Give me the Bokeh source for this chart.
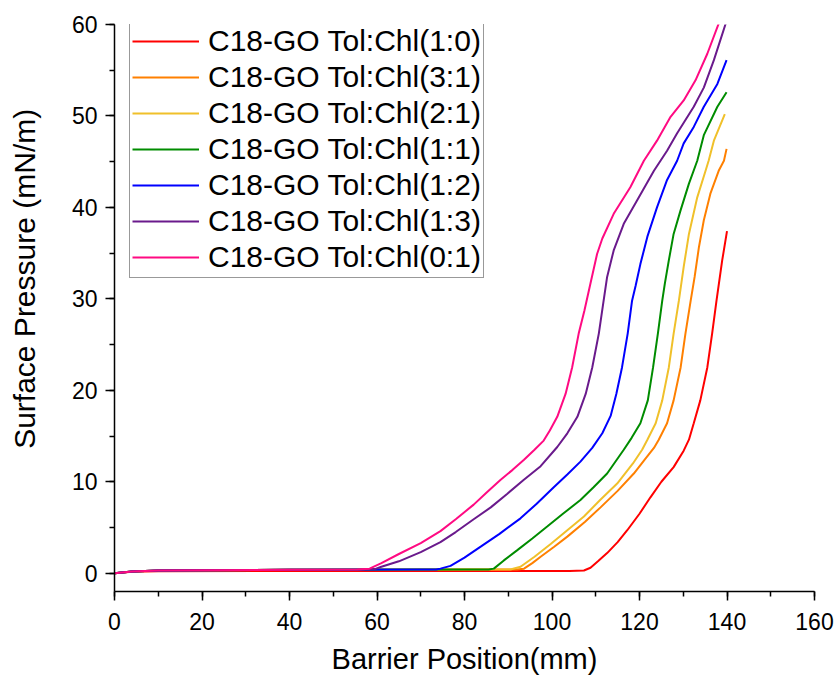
from bokeh.plotting import figure
from bokeh.models import SingleIntervalTicker, Range1d, Legend, LegendItem
from bokeh.embed import file_html
from bokeh.resources import INLINE

labels = ["C18-GO Tol:Chl(1:0)", "C18-GO Tol:Chl(3:1)", "C18-GO Tol:Chl(2:1)",
          "C18-GO Tol:Chl(1:1)", "C18-GO Tol:Chl(1:2)", "C18-GO Tol:Chl(1:3)",
          "C18-GO Tol:Chl(0:1)"]
colors = ["#FF0000", "#FF8000", "#F0C02A", "#008C00", "#0000FF", "#6A1A8C", "#FF0A82"]

x_10 = [0, 4, 10, 40, 80, 104, 107.3, 108.8, 110.5, 112.6, 115, 117.2, 120, 122.5, 125, 127.8, 130.1, 131.3, 132.4, 133.9, 135.5, 136.6, 137.6, 138.9, 140]
y_10 = [0, 0.15, 0.22, 0.25, 0.25, 0.25, 0.3, 0.6, 1.3, 2.2, 3.4, 4.7, 6.5, 8.3, 10.0, 11.6, 13.4, 14.6, 16.4, 18.9, 22.5, 26.2, 29.8, 34.2, 37.4]

x_31 = [0, 4, 10, 40, 80, 92, 93.6, 95.5, 97.4, 100.5, 103.5, 107.5, 111.1, 115, 118.7, 121.5, 123.3, 124.4, 126.3, 127.8, 129.4, 130.5, 131.7, 132.6, 133.6, 134.7, 136.2, 138.1, 139.3, 139.9]
y_31 = [0, 0.2, 0.3, 0.38, 0.4, 0.4, 0.5, 1.1, 1.8, 2.9, 4.0, 5.6, 7.2, 9.0, 10.9, 12.6, 13.7, 14.6, 16.4, 18.9, 22.5, 26.2, 29.8, 32.4, 35.7, 38.6, 41.5, 44, 45.1, 46.4]

x_21 = [0, 4, 10, 40, 80, 90.5, 92.8, 96, 99.7, 103.5, 107.3, 111, 114.9, 118.5, 120.6, 121.8, 123.7, 125.2, 126.7, 127.8, 129, 130.1, 131.3, 133.2, 135.1, 135.8, 137, 139.5]
y_21 = [0, 0.2, 0.3, 0.38, 0.4, 0.4, 0.7, 1.8, 3.2, 4.7, 6.2, 8.0, 9.8, 12.0, 13.5, 14.6, 16.4, 18.9, 22.5, 26.2, 29.8, 33.5, 37.1, 41.1, 44, 45.1, 47.3, 50.2]

x_11 = [0, 4, 10, 40, 80, 85.5, 86.7, 89, 92, 95.5, 98.9, 102.5, 106.5, 109.5, 112.6, 116.4, 118.2, 120.2, 121.9, 123.1, 124.2, 125.2, 125.8, 126.7, 127.8, 129.4, 131.3, 133.2, 134.7, 137.8, 139.9]
y_11 = [0, 0.2, 0.3, 0.38, 0.4, 0.4, 0.5, 1.4, 2.5, 3.8, 5.1, 6.5, 8.0, 9.4, 10.9, 13.5, 14.8, 16.4, 18.9, 22.5, 26.2, 29.8, 31.7, 34.2, 37.1, 39.7, 42.6, 45.1, 47.9, 51, 52.6]

x_12 = [0, 4, 10, 40, 70, 73.5, 74.5, 76.8, 80, 83.7, 88, 92.8, 96.5, 100.4, 103.5, 106.5, 109.2, 111.5, 113.4, 114.7, 116, 117.3, 118.3, 119.1, 120.2, 121.8, 124, 126.3, 128.6, 130.1, 132.4, 134.7, 137.8, 139.9]
y_12 = [0, 0.2, 0.3, 0.38, 0.4, 0.4, 0.5, 0.8, 1.7, 2.9, 4.3, 6.0, 7.6, 9.4, 10.8, 12.2, 13.7, 15.3, 17.2, 19.6, 22.5, 26.2, 29.8, 31.4, 33.8, 36.8, 40, 43, 45.1, 47, 48.8, 51, 53.5, 56.1]

x_13 = [0, 4, 10, 40, 57, 59.5, 61, 65, 70, 74.5, 78, 82.1, 86, 89.8, 93.5, 97.4, 101.2, 103.5, 105.8, 107.7, 109.2, 110.7, 111.8, 112.6, 114.1, 116.4, 119.5, 123.3, 126.3, 128.6, 132.4, 134.7, 137, 139.7]
y_13 = [0, 0.2, 0.3, 0.38, 0.4, 0.45, 0.7, 1.3, 2.3, 3.4, 4.5, 5.9, 7.2, 8.7, 10.2, 11.7, 13.8, 15.3, 17.1, 19.6, 22.5, 26.2, 29.8, 32.4, 35.3, 38.2, 40.8, 44, 46.2, 48.1, 51, 53.1, 56.1, 60.1]

x_01 = [0, 4, 10, 40, 55.5, 58.3, 61, 65, 70, 74.5, 78, 82.1, 85, 88.2, 91, 93.6, 96, 98.1, 99.5, 101.2, 103.1, 104.6, 106.1, 107.4, 108.8, 110.3, 111.5, 114.1, 117.9, 121, 124, 127.1, 130.1, 132.8, 135.5, 138.1]
y_01 = [0, 0.2, 0.3, 0.38, 0.4, 0.5, 1.1, 2.1, 3.3, 4.6, 5.9, 7.5, 8.8, 10.2, 11.3, 12.4, 13.5, 14.5, 15.6, 17.1, 19.6, 22.5, 26.2, 28.7, 31.7, 34.9, 36.6, 39.3, 42.2, 45.1, 47.3, 49.9, 51.7, 53.9, 56.8, 60.1]

xs = [x_10, x_31, x_21, x_11, x_12, x_13, x_01]
ys = [y_10, y_31, y_21, y_11, y_12, y_13, y_01]

FONT = "Liberation Sans"

p = figure(width=837, height=677, output_backend="svg", toolbar_location=None,
           x_range=Range1d(0, 160), y_range=Range1d(-2, 60),
           min_border_left=114, min_border_right=23, min_border_top=24, min_border_bottom=86)
p.outline_line_color = None
p.xgrid.visible = False
p.ygrid.visible = False
p.background_fill_color = "white"

items = []
for x, y, c, lab in zip(xs, ys, colors, labels):
    r = p.line(x, y, line_color=c, line_width=2)
    items.append(LegendItem(label=lab, renderers=[r]))

p.xaxis.ticker = SingleIntervalTicker(interval=20, num_minor_ticks=2)
p.yaxis.ticker = SingleIntervalTicker(interval=10, num_minor_ticks=2)
p.xaxis.axis_label = "Barrier Position(mm)"
# leading no-break spaces nudge the centred title upward, as in the reference
p.yaxis.axis_label = "\u00a0" * 7 + "Surface Pressure (mN/m)"
for ax in (p.xaxis, p.yaxis):
    ax.axis_line_width = 1.5
    ax.axis_line_color = "black"
    ax.major_tick_line_color = "black"
    ax.minor_tick_line_color = "black"
    ax.major_tick_line_width = 1.5
    ax.minor_tick_line_width = 1.5
    ax.major_tick_out = 9
    ax.major_tick_in = 0
    ax.minor_tick_out = 5
    ax.minor_tick_in = 0
    ax.major_label_text_font = FONT
    ax.major_label_text_font_size = "23px"
    ax.major_label_text_color = "black"
    ax.axis_label_text_font = FONT
    ax.axis_label_text_font_style = "normal"
    ax.axis_label_text_color = "black"
p.xaxis.axis_label_text_font_size = "29px"
p.yaxis.axis_label_text_font_size = "30px"
p.xaxis.major_label_standoff = 12
p.yaxis.major_label_standoff = 8
p.xaxis.axis_label_standoff = 10
p.yaxis.axis_label_standoff = 28

legend = Legend(items=items, location=(15, 313))
legend.label_text_font = FONT
legend.label_text_font_size = "30px"
legend.label_text_color = "black"
legend.glyph_width = 67
legend.glyph_height = 36
legend.label_height = 36
legend.label_standoff = 9
legend.padding = 2
legend.spacing = 0
legend.margin = 0
legend.border_line_color = "#333333"
legend.border_line_width = 1
legend.background_fill_alpha = 1
p.add_layout(legend, "center")

open("out.html", "w").write(file_html(p, INLINE))
